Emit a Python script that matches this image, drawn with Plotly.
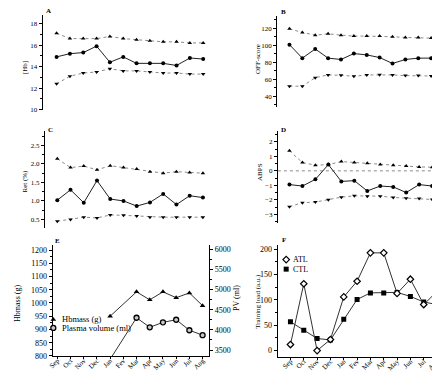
import plotly.graph_objects as go

months = ["Sep", "Oct", "Nov", "Dec", "Jan", "Fev", "Mar", "Apr", "May", "Jun", "Jul", "Aug"]

hb_upper = [17.1, 16.6, 16.6, 16.6, 16.8, 16.6, 16.5, 16.4, 16.3, 16.3, 16.2, 16.2]
hb_mean = [14.9, 15.2, 15.3, 15.9, 14.4, 14.9, 14.3, 14.3, 14.3, 14.1, 14.8, 14.7]
hb_lower = [12.4, 13.1, 13.4, 13.5, 13.8, 13.6, 13.6, 13.5, 13.4, 13.4, 13.3, 13.3]

off_upper = [119.2, 115, 111.8, 113.4, 111.8, 110.7, 110.7, 110.7, 109.9, 109.1, 109.1, 108.3]
off_mean = [100.6, 84.7, 95.5, 84.7, 83.1, 90.1, 88.5, 85.4, 78.4, 83.1, 84.7, 84.7]
off_lower = [51.6, 51.6, 61.7, 64.9, 64.5, 63.3, 64.9, 65.2, 64.9, 64.1, 64.1, 63.7]

ret_upper = [2.14, 1.90, 1.94, 1.84, 1.95, 1.90, 1.86, 1.79, 1.75, 1.79, 1.77, 1.75]
ret_mean = [1.02, 1.30, 0.95, 1.55, 1.05, 1.00, 0.86, 0.96, 1.19, 0.90, 1.14, 1.09]
ret_lower = [0.45, 0.50, 0.56, 0.54, 0.62, 0.61, 0.59, 0.56, 0.56, 0.56, 0.56, 0.56]

abps_upper = [1.39, 0.57, 0.39, 0.43, 0.64, 0.57, 0.52, 0.43, 0.39, 0.34, 0.27, 0.25]
abps_mean = [-0.95, -1.05, -0.59, 0.43, -0.73, -0.68, -1.39, -1.05, -1.11, -1.50, -0.95, -1.05]
abps_lower = [-2.48, -2.20, -2.16, -2.00, -1.82, -1.73, -1.75, -1.75, -1.84, -1.89, -1.91, -1.98]

hbmass = [None, None, None, None, 950, None, 1042, 1012, 1042, 1020, 1038, 990]
plasma = [None, None, None, None, 3270, None, 4302, 4065, 4188, 4253, 3992, 3869]

atl = [12, 132, 0, 22, 106, 137, 193, 193, 113, 141, 91, 117]
ctl = [57, 40, 24, 21, 62, 101, 114, 114, 115, 107, 96, 91]

W, H = 440, 372
SERIF = "Liberation Serif"
GREY = "#8a8a8a"


def fx(p):
    return p / W


def fy(p):
    return 1 - p / H


fig = go.Figure()

idx = list(range(len(months)))


def band_panel(n, upper, mean, lower):
    xa = "x" if n == 1 else f"x{n}"
    ya = "y" if n == 1 else f"y{n}"
    fig.add_trace(go.Scatter(x=idx, y=upper, xaxis=xa, yaxis=ya, mode="lines+markers",
                             line=dict(color=GREY, width=1, dash="dot"),
                             marker=dict(symbol="triangle-up", size=4, color="black"),
                             showlegend=False))
    fig.add_trace(go.Scatter(x=idx, y=lower, xaxis=xa, yaxis=ya, mode="lines+markers",
                             line=dict(color=GREY, width=1, dash="dot"),
                             marker=dict(symbol="triangle-down", size=4, color="black"),
                             showlegend=False))
    fig.add_trace(go.Scatter(x=idx, y=mean, xaxis=xa, yaxis=ya, mode="lines+markers",
                             line=dict(color="#222", width=1),
                             marker=dict(symbol="circle", size=4, color="black"),
                             showlegend=False))


band_panel(1, hb_upper, hb_mean, hb_lower)
band_panel(2, off_upper, off_mean, off_lower)
band_panel(3, ret_upper, ret_mean, ret_lower)
band_panel(4, abps_upper, abps_mean, abps_lower)

TRI = dict(symbol="triangle-up", size=5, color="black")
CIRC = dict(symbol="circle", size=5, color="#c8c8c8", line=dict(color="black", width=1.3))
DIAM = dict(symbol="diamond", size=5, color="white", line=dict(color="black", width=1.2))
SQ = dict(symbol="square", size=5, color="black")

# Panel E
fig.add_trace(go.Scatter(x=idx, y=hbmass, xaxis="x5", yaxis="y5", mode="lines+markers",
                         connectgaps=True, line=dict(color="#333", width=1),
                         marker=TRI, showlegend=False))
fig.add_trace(go.Scatter(x=idx, y=plasma, xaxis="x5", yaxis="y7", mode="lines+markers",
                         connectgaps=True, line=dict(color="#333", width=1),
                         marker=CIRC, showlegend=False))

# Panel F
fig.add_trace(go.Scatter(x=idx, y=ctl, xaxis="x6", yaxis="y6", mode="lines+markers",
                         line=dict(color="#333", width=1), marker=SQ, showlegend=False))
fig.add_trace(go.Scatter(x=idx, y=atl, xaxis="x6", yaxis="y6", mode="lines+markers",
                         line=dict(color="#333", width=1), marker=DIAM, showlegend=False))

# legend swatches on an overlay pixel axis
leg_x = [41.7, 41.7, 276.7, 276.7]
leg_y = [315.7, 324.3, 255, 264.7]
for lx, ly, mk in zip(leg_x, leg_y, [TRI, CIRC, DIAM, SQ]):
    fig.add_trace(go.Scatter(x=[lx], y=[ly], xaxis="x8", yaxis="y8", mode="markers",
                             marker=mk, showlegend=False))

tickfont_small = dict(family=SERIF, size=7, color="black")
tickfont_big = dict(family=SERIF, size=8, color="black")


def yax(dom_px, rng, tickvals, minor_dtick, font, anchor, **kw):
    d = dict(domain=[fy(dom_px[1]), fy(dom_px[0])], range=rng, tickvals=tickvals,
             showline=True, linecolor="black", linewidth=1, ticks="outside", ticklen=3,
             tickcolor="black", tickwidth=1, tickfont=font, showgrid=False, zeroline=False,
             anchor=anchor, fixedrange=True,
             minor=dict(ticks="outside", ticklen=2, dtick=minor_dtick, tickcolor="black",
                        showgrid=False))
    d.update(kw)
    return d


def xax_hidden(axis_px, right_px, sep_px, spacing, anchor):
    return dict(domain=[fx(axis_px), fx(right_px)],
                range=[(axis_px - sep_px) / spacing, (right_px - sep_px) / spacing],
                visible=False, anchor=anchor, fixedrange=True)


def xax_cat(axis_px, right_px, sep_px, spacing, anchor):
    return dict(domain=[fx(axis_px), fx(right_px)],
                range=[(axis_px - sep_px) / spacing, (right_px - sep_px) / spacing],
                tickvals=idx, ticktext=months, tickangle=-45, showline=True,
                linecolor="black", linewidth=1, ticks="outside", ticklen=2,
                tickcolor="black", tickfont=dict(family=SERIF, size=7, color="black"),
                ticklabelstandoff=-5,
                showgrid=False, zeroline=False, anchor=anchor, fixedrange=True)


fig.update_layout(
    width=W, height=H, margin=dict(l=0, r=0, t=0, b=0),
    paper_bgcolor="white", plot_bgcolor="rgba(0,0,0,0)",
    xaxis=xax_hidden(31, 205, 45, 13.45, "y"),
    yaxis=yax((6.7, 103), [10, 18.83], [10, 12, 14, 16, 18], 1, tickfont_small, "x"),
    xaxis2=xax_hidden(267.7, 435, 280, 13.0, "y2"),
    yaxis2=yax((8, 100), [27.5, 134.5], [40, 60, 80, 100, 120], 10, tickfont_small, "x2"),
    xaxis3=xax_hidden(33.3, 205, 45.7, 13.36, "y3"),
    yaxis3=yax((125, 223.3), [0.26, 2.88], [0.5, 1.0, 1.5, 2.0, 2.5], 0.25, tickfont_small, "x3",
               ticktext=["0.5", "1.0", "1.5", "2.0", "2.5"]),
    xaxis4=xax_hidden(268.3, 435, 280, 13.09, "y4"),
    yaxis4=yax((125, 218.3), [-3.63, 2.73], [-3, -2, -1, 0, 1, 2], 0.5, tickfont_small, "x4"),
    xaxis5=xax_cat(41, 199, 45.7, 13.33, "y5"),
    yaxis5=yax((240, 352.7), [800, 1219.8], list(range(800, 1201, 50)), 25, tickfont_big, "x5"),
    yaxis7=yax((240, 352.7), [3353, 6115], list(range(3500, 6001, 500)), 250, tickfont_big, "x5",
               overlaying="y5", side="right"),
    xaxis6=xax_cat(268, 436.7, 281, 13.45, "y6"),
    yaxis6=yax((240, 353.3), [-11.7, 209], [0, 50, 100, 150, 200], 25, tickfont_big, "x6"),
    xaxis8=dict(domain=[0, 1], range=[0, W], visible=False, anchor="y8", fixedrange=True),
    yaxis8=dict(domain=[0, 1], range=[H, 0], visible=False, anchor="x8", fixedrange=True),
)

fig.add_shape(type="line", xref="x4 domain", yref="y4", x0=0, x1=1, y0=0, y1=0,
              line=dict(color=GREY, width=1, dash="dot"), layer="below")


def ann(text, x, y, size, angle=0, bold=False, xanchor="center", yanchor="middle"):
    t = f"<b>{text}</b>" if bold else text
    fig.add_annotation(text=t, x=fx(x), y=fy(y), xref="paper", yref="paper",
                       showarrow=False, textangle=angle, xanchor=xanchor, yanchor=yanchor,
                       font=dict(family=SERIF, size=size, color="black"))


# panel letters
ann("A", 32, 3, 7, bold=True, xanchor="left")
ann("B", 269, 4, 7, bold=True, xanchor="left")
ann("C", 34.5, 124, 7, bold=True, xanchor="left")
ann("D", 269.5, 124, 7, bold=True, xanchor="left")
ann("E", 41.5, 236, 7, bold=True, xanchor="left")
ann("F", 270, 235, 7, bold=True, xanchor="left")

# axis titles
ann("[Hb]", 13, 60, 7, angle=-90)
ann("OFF-score", 249, 52, 7, angle=-90)
ann("Ret (%)", 13, 175, 7, angle=-90)
ann("ABPS", 250.5, 166, 7, angle=-90)
ann("Hbmass (g)", 6, 299, 8, angle=-90)
ann("PV (ml)", 226, 294, 8, angle=-90)
ann("Training load (a.u.)", 248, 297, 7, angle=-90)

# legend texts
ann("Hbmass (g)", 48, 315.7, 8.5, xanchor="left")
ann("Plasma volume (ml)", 48, 324.3, 8.5, xanchor="left")
ann("ATL", 281.7, 255, 8, xanchor="left")
ann("CTL", 281.7, 264.7, 8, xanchor="left")

fig.write_html("out.html")
